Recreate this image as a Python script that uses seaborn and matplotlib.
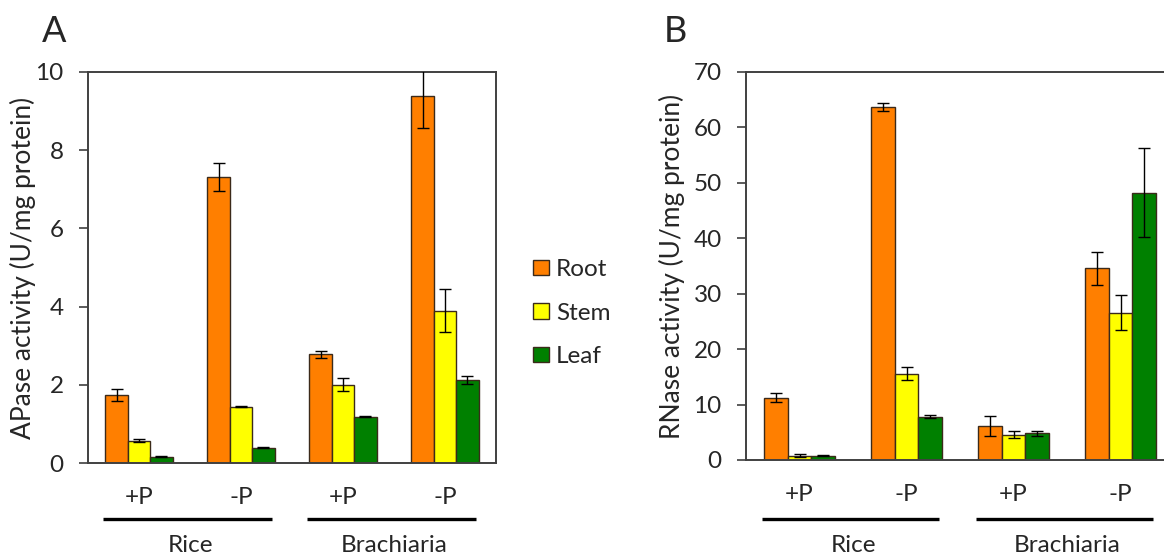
import numpy as np
import pandas as pd
import matplotlib
matplotlib.use("Agg")
import matplotlib.pyplot as plt
import matplotlib.transforms as mtransforms
from matplotlib.patches import Patch
import seaborn as sns

# ---- data -------------------------------------------------------------
species = ["Rice", "Rice", "Brachiaria", "Brachiaria"]
treatments = ["+P", "-P", "+P", "-P"]
tissues = ["Root", "Stem", "Leaf"]
tissue_colors = ["#FF7F00", "#FFFF00", "#008000"]

# APase activity (U/mg protein), mean and error per condition
apase_root = [1.74, 7.32, 2.78, 9.39]
apase_stem = [0.57, 1.44, 2.00, 3.90]
apase_leaf = [0.16, 0.39, 1.18, 2.12]
apase_root_err = [0.16, 0.36, 0.09, 0.83]
apase_stem_err = [0.04, 0.02, 0.17, 0.54]
apase_leaf_err = [0.01, 0.01, 0.01, 0.10]

# RNase activity (U/mg protein), mean and error per condition
rnase_root = [11.25, 63.75, 6.1, 34.6]
rnase_stem = [0.8, 15.6, 4.6, 26.6]
rnase_leaf = [0.8, 7.8, 4.8, 48.2]
rnase_root_err = [0.85, 0.7, 1.75, 3.0]
rnase_stem_err = [0.2, 1.2, 0.6, 3.1]
rnase_leaf_err = [0.1, 0.3, 0.4, 8.0]

apase_ticks = [0, 2, 4, 6, 8, 10]
rnase_ticks = [0, 10, 20, 30, 40, 50, 60, 70]

# ---- style ------------------------------------------------------------
sns.set_theme(style="white")
plt.rcParams["font.family"] = ["Lato", "DejaVu Sans"]
FS = 17.5
EDGE = "#404040"

conditions = [f"{s} {t}" for s, t in zip(species, treatments)]


def long_frame(values, errors):
    rows = []
    for tissue, vals, errs in zip(tissues, values, errors):
        for cond, v, e in zip(conditions, vals, errs):
            rows.append({"condition": cond, "tissue": tissue, "value": v, "err": e})
    return pd.DataFrame(rows)


def draw_panel(fig, ax, df, ymax, ticks, ylabel, letter, letter_xy, show_right):
    sns.barplot(data=df, x="condition", y="value", hue="tissue",
                order=conditions, hue_order=tissues,
                palette=tissue_colors, saturation=1, width=0.66,
                errorbar=None, edgecolor="#3b2a1a", linewidth=1.0,
                legend=False, ax=ax)
    # error bars placed on the centre/top of each drawn bar
    for container, tissue in zip(ax.containers, tissues):
        sub = df[df["tissue"] == tissue].set_index("condition").loc[conditions]
        xs = [p.get_x() + p.get_width() / 2 for p in container.patches]
        hs = [p.get_height() for p in container.patches]
        ax.errorbar(xs, hs, yerr=sub["err"].values, fmt="none",
                    ecolor="black", elinewidth=1.0, capsize=4, capthick=1.0,
                    zorder=5)
    ax.set_xlim(-0.5, len(conditions) - 0.5)
    ax.set_ylim(0, ymax)
    ax.set_yticks(ticks)
    ax.set_yticklabels([str(t) for t in ticks], fontsize=FS)
    ax.set_xticks(range(len(conditions)))
    ax.set_xticklabels(treatments, fontsize=FS)
    ax.tick_params(axis="x", length=0, pad=17)
    ax.tick_params(axis="y", length=6.5, width=1.2, color=EDGE, pad=11,
                   direction="out", left=True)
    ax.set_xlabel("")
    ax.set_ylabel(ylabel, fontsize=19, va="center")
    for name, sp in ax.spines.items():
        sp.set_color(EDGE)
        sp.set_linewidth(1.4)
    ax.spines["right"].set_visible(show_right)

    # species brackets beneath the treatment labels
    trans = mtransforms.blended_transform_factory(ax.transData, fig.transFigure)
    for sp_name in dict.fromkeys(species):
        idx = [i for i, s in enumerate(species) if s == sp_name]
        x0, x1 = min(idx) - 0.35, max(idx) + 0.3
        ax.plot([x0, x1], [1 - 519 / 560] * 2, color="black", lw=2.4,
                transform=trans, clip_on=False, solid_capstyle="butt")
        ax.text((min(idx) + max(idx)) / 2, 1 - 546 / 560, sp_name,
                transform=trans, ha="center", va="center", fontsize=FS)

    fig.text(letter_xy[0], letter_xy[1], letter, fontsize=26,
             ha="center", va="center")


W, H = 1164, 560
fig = plt.figure(figsize=(W / 100, H / 100), dpi=100)

ax_a = fig.add_axes([88 / W, 1 - 463 / H, 408 / W, 391 / H])
ax_b = fig.add_axes([746 / W, 1 - 460 / H, 428 / W, 388 / H])

draw_panel(fig, ax_a,
           long_frame([apase_root, apase_stem, apase_leaf],
                      [apase_root_err, apase_stem_err, apase_leaf_err]),
           10, apase_ticks, "APase activity (U/mg protein)", "A",
           (54 / W, 1 - 32 / H), True)
draw_panel(fig, ax_b,
           long_frame([rnase_root, rnase_stem, rnase_leaf],
                      [rnase_root_err, rnase_stem_err, rnase_leaf_err]),
           70, rnase_ticks, "RNase activity (U/mg protein)", "B",
           (675 / W, 1 - 32 / H), False)

ax_a.yaxis.set_label_coords((23 - 88) / 408, 0.5)
ax_b.yaxis.set_label_coords((672 - 746) / 428, 0.5)

handles = [Patch(facecolor=c, edgecolor="#3b2a1a", linewidth=1.0)
           for c in tissue_colors]
fig.legend(handles, tissues, loc="center left",
           bbox_to_anchor=(521 / W, 1 - 313 / H), frameon=False,
           fontsize=FS, handlelength=0.65, handleheight=0.6,
           handletextpad=0.3, labelspacing=0.93, borderpad=0)

fig.savefig("out.png", dpi=100, facecolor="white")
